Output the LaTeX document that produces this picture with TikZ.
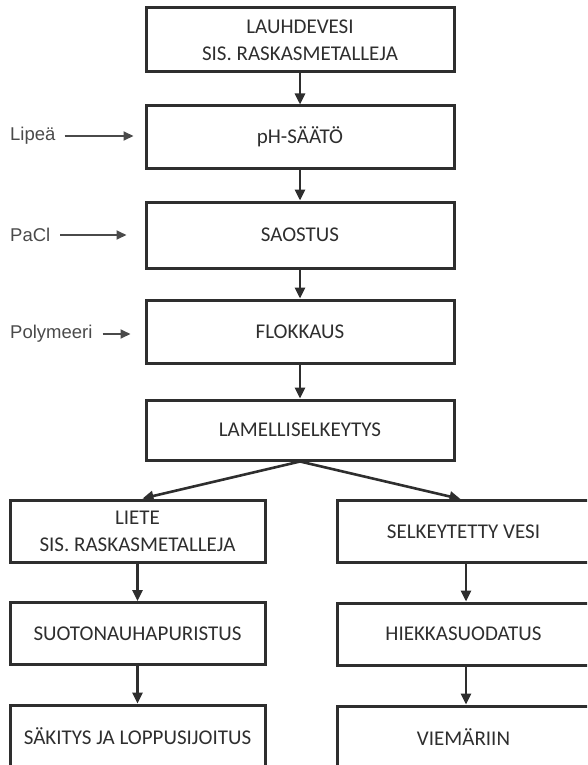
\documentclass[tikz,border=0pt]{standalone}
\usepackage{fontspec}
\setmainfont{Carlito}
\newfontfamily\labelfont{Liberation Sans}
\usetikzlibrary{arrows.meta}
\definecolor{linegray}{HTML}{2E2E2E}
\definecolor{labelgray}{HTML}{4A4A4A}

\begin{document}
\begin{tikzpicture}[x=1pt,y=-1pt,
    main_box/.style={draw=linegray,line width=3pt,text=linegray,minimum width=308pt,minimum height=63pt,align=center,font=\fontsize{21}{27}\selectfont},
    side_box/.style={main_box,minimum width=255pt,minimum height=62pt},
    side_label/.style={text=labelgray,font=\labelfont\fontsize{18.5}{21}\selectfont,inner sep=0pt,anchor=west},
    flow/.style={draw=linegray,line width=2.6pt,-{Triangle[length=11pt,width=10pt]}},
    feed/.style={draw=labelgray,line width=1.8pt,-{Triangle[length=10pt,width=9pt]}}]

    \useasboundingbox (0,0) rectangle (587,765);
    \clip (0,0) rectangle (587,765);

    \node[main_box,minimum height=64pt] (lauhde) at (300,40) {LAUHDEVESI\\SIS. RASKASMETALLEJA};
    \node[main_box,minimum height=62pt] (ph) at (300,137) {pH-SÄÄTÖ};
    \node[main_box,minimum height=66pt] (saostus) at (300,235) {SAOSTUS};
    \node[main_box] (flokkaus) at (300,331.5) {FLOKKAUS};
    \node[main_box,minimum height=60pt] (lamelli) at (300,430) {LAMELLISELKEYTYS};

    \node[side_box] (liete) at (137.5,531) {LIETE\\SIS. RASKASMETALLEJA};
    \node[side_box] (suoto) at (137.5,633.5) {SUOTONAUHAPURISTUS};
    \node[side_box] (sakitys) at (137.5,736) {SÄKITYS JA LOPPUSIJOITUS};
    \node[side_box,minimum width=253pt] (vesi) at (463.5,531.5) {SELKEYTETTY VESI};
    \node[side_box,minimum width=253pt] (hiekka) at (463.5,634) {HIEKKASUODATUS};
    \node[side_box,minimum width=253pt] (viemari) at (463.5,737) {VIEMÄRIIN};

    \node[side_label] (lipea) at (10,136) {Lipeä};
    \node[side_label] (pacl) at (10,235) {PaCl};
    \node[side_label] (polymeeri) at (10,334) {Polymeeri};

    \draw[flow] (lauhde) -- (ph);
    \draw[flow] (ph) -- (saostus);
    \draw[flow] (saostus) -- (flokkaus);
    \draw[flow] (flokkaus) -- (lamelli);
    \draw[flow] (lamelli.south) -- ([xshift=5pt]liete.north);
    \draw[flow] (lamelli.south) -- ([xshift=-3pt]vesi.north);
    \draw[flow] (liete) -- (suoto);
    \draw[flow] (suoto) -- (sakitys);
    \draw[flow] ([xshift=2.5pt]vesi.south) -- ([xshift=2.5pt]hiekka.north);
    \draw[flow] ([xshift=2.5pt]hiekka.south) -- ([xshift=2.5pt]viemari.north);

    \draw[feed,shorten <=9pt,shorten >=11pt] (lipea) -- (lipea -| ph.west);
    \draw[feed,shorten <=10pt,shorten >=18pt] (pacl) -- (pacl -| saostus.west);
    \draw[feed,shorten <=10pt,shorten >=14pt] (polymeeri) -- (polymeeri -| flokkaus.west);
\end{tikzpicture}
\end{document}
